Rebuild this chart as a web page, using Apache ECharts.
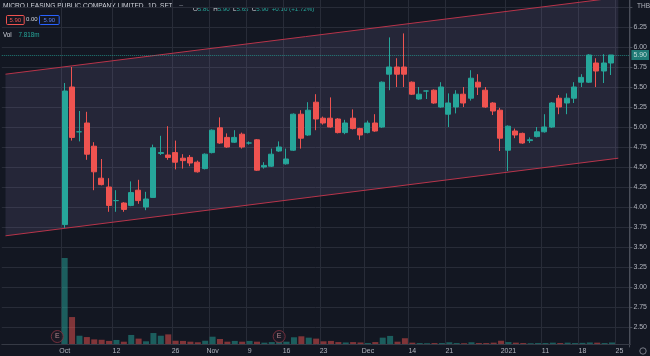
<!DOCTYPE html>
<html><head><meta charset="utf-8">
<script src="https://cdn.jsdelivr.net/npm/echarts@6/dist/echarts.min.js"></script>
<style>html,body{margin:0;padding:0;background:#131722;}#c{width:650px;height:356px;}</style>
</head><body><div id="c"></div>
<script>
// ---- DATA ----
const dates = [
 '2020-10-01','2020-10-02','2020-10-05','2020-10-06','2020-10-07','2020-10-08','2020-10-09','2020-10-12','2020-10-14','2020-10-15',
 '2020-10-16','2020-10-19','2020-10-20','2020-10-21','2020-10-22','2020-10-26','2020-10-27','2020-10-28','2020-10-29','2020-10-30',
 '2020-11-02','2020-11-03','2020-11-04','2020-11-05','2020-11-06','2020-11-09','2020-11-10','2020-11-11','2020-11-12','2020-11-13',
 '2020-11-16','2020-11-17','2020-11-18','2020-11-19','2020-11-20','2020-11-23','2020-11-24','2020-11-25','2020-11-26','2020-11-27',
 '2020-11-30','2020-12-01','2020-12-02','2020-12-03','2020-12-04','2020-12-08','2020-12-09','2020-12-14','2020-12-15','2020-12-16',
 '2020-12-17','2020-12-18','2020-12-21','2020-12-22','2020-12-23','2020-12-24','2020-12-25','2020-12-28','2020-12-29','2020-12-30',
 '2021-01-04','2021-01-05','2021-01-06','2021-01-07','2021-01-08','2021-01-11','2021-01-12','2021-01-13','2021-01-14','2021-01-15',
 '2021-01-18','2021-01-19','2021-01-20','2021-01-21','2021-01-22'
];
const opens  = [3.78,5.50,4.94,5.05,4.76,4.36,4.25,4.08,4.05,4.02,4.21,4.00,4.12,4.67,4.65,4.68,4.61,4.62,4.56,4.48,
                4.68,4.99,4.87,4.81,4.91,4.80,4.84,4.50,4.51,4.70,4.54,4.71,5.16,4.90,5.31,5.11,5.11,5.10,4.93,5.11,
                4.98,4.93,5.05,5.00,5.66,5.75,5.75,5.56,5.35,5.45,5.46,5.25,5.16,5.25,5.41,5.36,5.56,5.46,5.30,5.21,
                4.71,4.95,4.92,4.83,4.88,4.94,5.00,5.36,5.30,5.36,5.56,5.56,5.80,5.70,5.80];
const highs  = [5.55,5.75,5.20,5.19,4.81,4.60,4.36,4.21,4.06,4.32,4.34,4.19,4.78,4.89,5.01,4.83,4.66,4.65,4.58,4.67,
                4.97,5.12,4.92,4.96,4.93,4.82,4.85,4.56,4.73,4.82,4.73,5.17,5.21,5.31,5.41,5.13,5.37,5.11,5.09,5.22,
                4.99,5.08,5.16,5.57,6.12,5.86,6.17,5.57,5.50,5.46,5.47,5.56,5.42,5.46,5.50,5.71,5.66,5.50,5.31,5.24,
                5.02,4.98,4.93,4.87,5.00,5.16,5.31,5.40,5.42,5.56,5.66,5.91,5.86,5.91,5.90];
const lows   = [3.74,4.83,4.82,4.59,4.21,4.27,3.94,3.94,3.94,4.01,4.04,3.96,4.12,4.65,4.59,4.47,4.48,4.51,4.43,4.47,
                4.67,4.79,4.74,4.80,4.73,4.78,4.45,4.48,4.50,4.69,4.53,4.70,4.73,4.89,4.96,5.03,4.99,4.92,4.91,4.97,
                4.84,4.92,4.94,4.99,5.46,5.50,5.50,5.40,5.34,5.35,5.29,5.24,5.00,5.17,5.25,5.33,5.40,5.24,5.15,4.70,
                4.45,4.86,4.79,4.80,4.87,4.93,4.99,5.16,5.16,5.30,5.50,5.55,5.50,5.55,5.65];
const closes = [5.45,4.87,4.94,4.66,4.44,4.28,4.02,4.08,3.97,4.18,4.08,4.10,4.74,4.68,4.62,4.56,4.58,4.55,4.44,4.66,
                4.96,4.80,4.75,4.87,4.75,4.80,4.46,4.52,4.66,4.75,4.60,5.16,4.86,5.21,5.10,5.05,5.00,4.93,5.05,4.98,
                4.90,5.05,4.95,5.56,5.75,5.66,5.66,5.41,5.41,5.45,5.30,5.50,5.30,5.41,5.30,5.61,5.50,5.25,5.20,4.86,
                5.01,4.90,4.80,4.84,4.94,5.00,5.30,5.25,5.36,5.50,5.62,5.90,5.70,5.80,5.90];
const volumes = [447,140,43,36,24,22,16,21,12,47,28,14,57,43,50,17,16,12,9,17,
                 38,26,12,16,12,16,12,7,10,12,12,35,40,33,28,14,16,10,8,10,
                 8,5,10,33,42,12,30,7,5,4,5,5,9,5,4,9,5,5,7,17,
                 10,7,5,4,5,5,7,5,7,5,6,8,7,5,7.818]; // millions
const leadPad = ['p0','p1','p2','p3','p4','p5','p6','p7'];
const tailPad = ['2021-01-25','p8'];
const tickDates  = ['2020-10-01','2020-10-12','2020-10-26','2020-11-02','2020-11-09','2020-11-16','2020-11-23',
                    '2020-12-01','2020-12-14','2020-12-21','2021-01-04','2021-01-11','2021-01-18','2021-01-25'];
const tickLabels = ['Oct','12','26','Nov','9','16','23','Dec','14','21','2021','11','18','25'];
const channelDates = ['p0','2021-01-25'];
const channelUpper = [5.66,6.62];
const channelLower = [3.64,4.61];
const earningsDates = ['p7','2020-11-13'];
const title = 'MICRO LEASING PUBLIC COMPANY LIMITED';
const interval = '1D', exchange = 'SET', currency = 'THB';

// ---- STYLE ----
const UP = '#26a69a', DOWN = '#ef5350';
const UPV = 'rgba(38,166,154,0.5)', DOWNV = 'rgba(239,83,80,0.5)';
const GRID = '#282c38', TXT = '#d1d4dc', AX = '#b2b5be';
const FONT = 'Liberation Sans';

const categories = leadPad.concat(dates, tailPad);
const tickMap = {}; tickDates.forEach((d, i) => tickMap[d] = tickLabels[i]);
const isTick = (i, v) => Object.prototype.hasOwnProperty.call(tickMap, v);

const candleData = dates.map((d, i) => {
  const c = closes[i] >= opens[i] ? UP : DOWN;
  return {value: [d, opens[i], closes[i], lows[i], highs[i]],
          itemStyle: {color: c, color0: c, borderColor: c, borderColor0: c}};
});
const volData = dates.map((d, i) => ({value: [d, volumes[i]],
  itemStyle: {color: closes[i] >= opens[i] ? UPV : DOWNV}}));

const n = closes.length;
const lastO = opens[n-1], lastH = highs[n-1], lastL = lows[n-1], lastC = closes[n-1];
const chg = lastC - closes[n-2];
const pct = chg / closes[n-2] * 100;

const chart = echarts.init(document.getElementById('c'), null, {renderer: 'canvas'});
const splitColors = ['rgba(0,0,0,0)'].concat(new Array(17).fill(GRID), ['rgba(0,0,0,0)']);

chart.setOption({
  backgroundColor: '#131722',
  animation: false,
  textStyle: {fontFamily: FONT},
  grid: [
    {left: 1.8, right: 19.5, top: 0, bottom: 9},
    {left: 1.8, right: 19.5, top: 0, bottom: 12}
  ],
  xAxis: [
    {type: 'category', gridIndex: 0, data: categories, boundaryGap: true, show: false},
    {type: 'category', gridIndex: 1, data: categories, boundaryGap: true,
     axisLine: {show: true, lineStyle: {color: '#363a45'}},
     axisTick: {show: false},
     axisLabel: {interval: isTick, formatter: v => tickMap[v] || '', color: AX, fontSize: 7, margin: 4, fontFamily: FONT},
     splitLine: {show: true, interval: isTick, lineStyle: {color: GRID, width: 1}}}
  ],
  yAxis: [
    {type: 'value', gridIndex: 0, position: 'right', min: 2.25, max: 6.5875, interval: 0.25,
     axisLine: {show: true, lineStyle: {color: '#4a4e59'}},
     axisTick: {show: true, length: 3, lineStyle: {color: '#4a4e59'}},
     axisLabel: {color: AX, fontSize: 7, margin: 4, fontFamily: FONT, showMinLabel: false, showMaxLabel: false,
                 formatter: v => (v >= 6.5 || v < 2.5) ? '' : v.toFixed(2)},
     splitLine: {show: true, lineStyle: {color: splitColors, width: 1}}},
    {type: 'value', gridIndex: 1, min: 0, max: 1788, show: false}
  ],
  series: [
    {type: 'custom', xAxisIndex: 0, yAxisIndex: 0, silent: true, z: 1, data: [[0]], clip: false,
     renderItem: (params, api) => {
       const x0 = categories.indexOf(channelDates[0]), x1 = categories.indexOf(channelDates[1]);
       const u0 = api.coord([x0, channelUpper[0]]), u1 = api.coord([x1, channelUpper[1]]);
       const l0 = api.coord([x0, channelLower[0]]), l1 = api.coord([x1, channelLower[1]]);
       return {type: 'group', children: [
         {type: 'polygon', shape: {points: [u0, u1, l1, l0]}, style: {fill: 'rgba(140,125,190,0.15)'}},
         {type: 'line', shape: {x1: u0[0], y1: u0[1], x2: u1[0], y2: u1[1]}, style: {stroke: '#b8344a', lineWidth: 1}},
         {type: 'line', shape: {x1: l0[0], y1: l0[1], x2: l1[0], y2: l1[1]}, style: {stroke: '#b8344a', lineWidth: 1}}
       ]};
     }},
    {type: 'bar', xAxisIndex: 1, yAxisIndex: 1, data: volData, encode: {x: 0, y: 1}, barWidth: 6, z: 2, silent: true},
    {type: 'candlestick', xAxisIndex: 0, yAxisIndex: 0, data: candleData, encode: {x: 0, y: [1, 2, 3, 4]},
     barWidth: 5.5, z: 3, silent: true,
     markLine: {silent: true, symbol: 'none', data: [{yAxis: lastC}],
       lineStyle: {color: UP, type: 'dotted', width: 1, opacity: 0.7},
       label: {position: 'end', formatter: lastC.toFixed(2), backgroundColor: UP, color: '#ffffff',
               fontSize: 7, padding: [2, 2, 1, 2], distance: 2, fontFamily: FONT}}},
    {type: 'scatter', xAxisIndex: 1, yAxisIndex: 1, silent: true, z: 4,
     data: earningsDates.map(d => [d, 0]), symbol: 'circle', symbolSize: 12, symbolOffset: [0, -7.5],
     itemStyle: {color: '#1d1a26', borderColor: '#8a3442', borderWidth: 1},
     label: {show: true, formatter: 'E', position: 'inside', color: '#d8a0a8', fontSize: 7, fontFamily: FONT}}
  ],
  graphic: [
    {type: 'text', left: 3, top: 3, style: {text: title, fill: TXT, fontSize: 6.6, fontFamily: FONT}},
    {type: 'text', left: 148, top: 3, style: {text: interval, fill: TXT, fontSize: 6.6, fontFamily: FONT}},
    {type: 'text', left: 160, top: 3, style: {text: exchange, fill: TXT, fontSize: 6.6, fontFamily: FONT}},
    {type: 'text', left: 179, top: 2, style: {text: '−', fill: '#787b86', fontSize: 8, fontFamily: FONT}},
    {type: 'text', left: 193, top: 3, style: {
      text: '{k|O}{v|' + lastO.toFixed(2) + '} {k|H}{v|' + lastH.toFixed(2) + '} {k|L}{v|' + lastL.toFixed(2) +
            '} {k|C}{v|' + lastC.toFixed(2) + '} {v|' + (chg >= 0 ? '+' : '') + chg.toFixed(2) + ' (' + (pct >= 0 ? '+' : '') + pct.toFixed(2) + '%)}',
      rich: {k: {fill: TXT, fontSize: 6.2, fontFamily: FONT}, v: {fill: UP, fontSize: 6.2, fontFamily: FONT}}}},
    {type: 'text', left: 6, top: 15, style: {text: lastC.toFixed(2), fill: DOWN, fontSize: 6, fontFamily: FONT,
      borderColor: DOWN, borderWidth: 1, padding: [2, 3, 1, 3], borderRadius: 1}},
    {type: 'text', left: 26, top: 16, style: {text: '0.00', fill: TXT, fontSize: 6, fontFamily: FONT}},
    {type: 'text', left: 39, top: 15, style: {text: lastC.toFixed(2), fill: '#5b7cf0', fontSize: 6, fontFamily: FONT,
      borderColor: '#2962ff', borderWidth: 1, padding: [2, 4, 1, 4], borderRadius: 1}},
    {type: 'text', left: 3, top: 29, style: {text: '{k|Vol}  {v|' + volumes[n-1].toFixed(3) + 'm}',
      rich: {k: {fill: TXT, fontSize: 6.3, fontFamily: FONT}, v: {fill: UP, fontSize: 6.3, fontFamily: FONT}}}},
    {type: 'text', left: 637, top: 3, style: {text: currency, fill: AX, fontSize: 6.5, fontFamily: FONT}},
    {type: 'circle', shape: {cx: 643, cy: 351, r: 3.2}, style: {fill: 'none', stroke: '#787b86', lineWidth: 1}}
  ]
});
</script></body></html>
